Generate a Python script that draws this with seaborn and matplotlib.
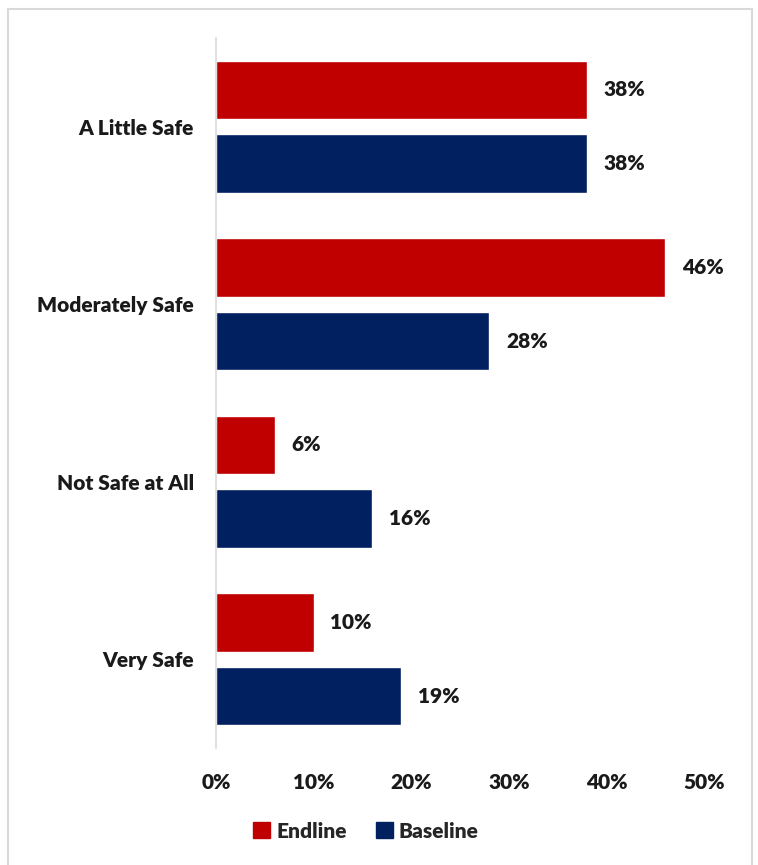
import matplotlib
matplotlib.use("Agg")
import matplotlib.pyplot as plt
from matplotlib.patches import Rectangle
from matplotlib.ticker import PercentFormatter
import seaborn as sns
import pandas as pd

categories = ["A Little Safe", "Moderately Safe", "Not Safe at All", "Very Safe"]
endline = [38, 46, 6, 10]
baseline = [38, 28, 16, 19]
series = ["Endline", "Baseline"]
colors = {"Endline": "#C00000", "Baseline": "#002060"}
x_ticks = [0, 10, 20, 30, 40, 50]

df = pd.DataFrame({
    "category": categories * 2,
    "value": endline + baseline,
    "survey": ["Endline"] * len(categories) + ["Baseline"] * len(categories),
})

sns.set_theme(style="white")
plt.rcParams["font.family"] = ["Lato", "DejaVu Sans"]
plt.rcParams["font.weight"] = "bold"

TXT = "#1a1a1a"
FS = 15

fig = plt.figure(figsize=(7.58, 8.65), dpi=100)
W, H = 758, 865
ax = fig.add_axes([216 / W, 1 - 748 / H, (704 - 216) / W, (748 - 38) / H])

sns.barplot(data=df, x="value", y="category", hue="survey", order=categories,
            hue_order=series, palette=colors, orient="h", width=0.83, gap=0.21,
            saturation=1, ax=ax, legend=True, errorbar=None)

for container in ax.containers:
    ax.bar_label(container, labels=[f"{v:.0f}%" for v in container.datavalues],
                 padding=12, fontsize=FS, fontweight="heavy", color=TXT)

ax.set_xlim(0, 50)
ax.set_xticks(x_ticks)
ax.xaxis.set_major_formatter(PercentFormatter(decimals=0))
ax.set_xlabel("")
ax.set_ylabel("")
ax.tick_params(axis="both", length=0, labelsize=FS, colors=TXT)
ax.tick_params(axis="x", pad=18)
ax.tick_params(axis="y", pad=16)
for lbl in ax.get_xticklabels() + ax.get_yticklabels():
    lbl.set_fontweight("heavy")
for side in ["top", "right", "bottom"]:
    ax.spines[side].set_visible(False)
ax.spines["left"].set_color("#d9d9d9")
ax.spines["left"].set_linewidth(1.2)
ax.grid(False)

ax.legend_.remove()
handles = [Rectangle((0, 0), 1, 1, color=colors[s]) for s in series]
fig.legend(handles, series, loc="center", bbox_to_anchor=(366 / W, 1 - 831 / H),
           ncol=2, frameon=False, handlelength=0.8, handleheight=0.8,
           handletextpad=0.3, columnspacing=1.4,
           prop={"weight": "heavy", "size": FS})

# chart frame
fig.patches.append(Rectangle((8 / W, -0.05), (752 - 8) / W, (1 - 9 / H) + 0.05,
                             transform=fig.transFigure, fill=False,
                             edgecolor="#d9d9d9", linewidth=1.5))

fig.savefig("out.png", dpi=100)
